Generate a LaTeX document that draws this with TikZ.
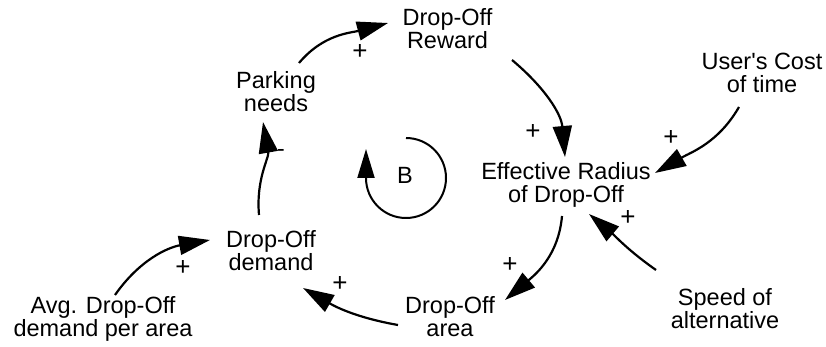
\documentclass[tikz,border=0pt]{standalone}
\usepackage{fontspec}
\setmainfont{Liberation Sans}[Ligatures=TeXOff]
\usetikzlibrary{arrows.meta}
\begin{document}
\begin{tikzpicture}[x=1pt,y=1pt,
  lbl/.style={font=\fontsize{23.5}{23}\selectfont, align=center, inner sep=0pt, anchor=base},
  sgn/.style={font=\fontsize{26}{26}\selectfont, inner sep=0pt},
  neg/.style={font=\fontsize{23}{23}\selectfont, inner sep=0pt},
  link/.style={line width=2.2pt, -{Triangle[length=31pt,width=19pt]}}]
\useasboundingbox (0,0) rectangle (826,347);
\node[lbl] (reward) at (447.5,298) {Drop-Off\\Reward};
\node[lbl] (parking) at (276,235) {Parking\\needs};
\node[lbl] (eff) at (566,144) {Effective Radius\\of Drop-Off};
\node[lbl] (user) at (762,254) {User's Cost\\of time};
\node[lbl] (speed) at (725,18) {Speed of\\alternative};
\node[lbl] (area) at (450,10) {Drop-Off\\area};
\node[lbl] (demand) at (271,76) {Drop-Off\\demand};
\node[lbl] (avg) at (103,10) {Avg. Drop-Off\\demand per area};
\node[lbl] (b) at (405,163) {B};
% connectors
\draw[link] ([shift={(23,49)}]parking.base) to[out=50,in=195] ([shift={(-59.5,26)}]reward.base);
\draw[link] ([shift={(64.5,-11)}]reward.base) to[out=-40,in=95] ([shift={(-1,46)}]eff.base);
\draw[link] ([shift={(-23,-14)}]user.base) to[out=240,in=30] ([shift={(89,30)}]eff.base);
\draw[link] ([shift={(-69,59)}]speed.base) to[out=145,in=-40] ([shift={(23,-11)}]eff.base);
\draw[link] ([shift={(-4,-13)}]eff.base) to[out=-95,in=40] ([shift={(55,37)}]area.base);
\draw[link] ([shift={(-52,12)}]area.base) to[out=170,in=-30] ([shift={(32,-17)}]demand.base);
\draw[link] ([shift={(12,42)}]avg.base) to[out=55,in=190] ([shift={(-61,31)}]demand.base);
\draw[link] ([shift={(-12,56)}]demand.base) to[out=95,in=-80] ([shift={(-13,-10)}]parking.base);
% signs
\node[sgn] (s1) at (360,295) {+};
\node[sgn] (s2) at (533,215) {+};
\node[sgn] (s3) at (671,209) {+};
\node[sgn] (s4) at (628,129) {+};
\node[sgn] (s5) at (510,82) {+};
\node[sgn] (s6) at (340,63) {+};
\node[sgn] (s7) at (183,79) {+};
\node[neg] (s8) at (281,194) {-};
% loop symbol
\draw[line width=2pt,-{Triangle[length=29pt,width=17pt]}] (406,209) arc[start angle=90,end angle=-180,radius=40] -- ++(0,29);
\end{tikzpicture}
\end{document}
